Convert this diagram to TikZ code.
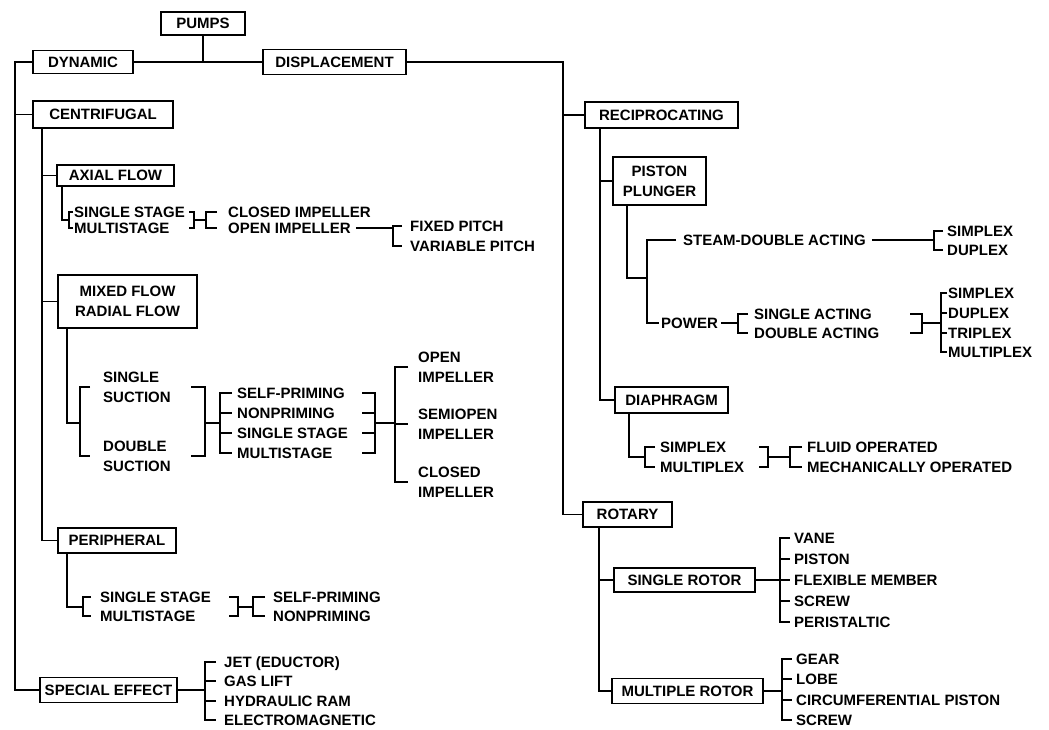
\documentclass[tikz,border=0pt]{standalone}
\usepackage{fontspec}
\setmainfont{Liberation Sans}
\usetikzlibrary{calc}
\newcommand{\pfont}{\fontsize{15}{20}\selectfont\bfseries}
\newcommand{\mylb}[4]{\draw[ln] ($(#2.west -| #1)+(#4,0)$) -- (#2.west -| #1) -- (#3.west -| #1) -- ($(#3.west -| #1)+(#4,0)$);}
\newcommand{\myarm}[3]{\draw[ln] (#2.west -| #1) -- ++(#3,0);}
\begin{document}
\begin{tikzpicture}[x=1pt,y=-1pt,
  ln/.style={line width=1.6pt},
  box/.style={draw,line width=1.6pt,inner sep=0pt,align=center,font=\pfont},
  one/.style={text height=10.8pt,text depth=0pt},
  txt/.style={anchor=west,inner sep=2pt,font=\pfont,text height=10.8pt,text depth=0pt},
  txtm/.style={anchor=west,inner sep=2pt,font=\pfont,align=left}]
\useasboundingbox (0,0) rectangle (1049,729);
\fill[white] (0,0) rectangle (1049,729);

% ---------- boxes ----------
\node[box,one,minimum width=84,minimum height=23] (pumps) at (203,23.5) {PUMPS};
\node[box,one,minimum width=100,minimum height=23] (dyn) at (83,62) {DYNAMIC};
\node[box,one,minimum width=143,minimum height=25] (disp) at (334.5,62) {DISPLACEMENT};
\node[box,one,minimum width=140,minimum height=27] (cen) at (103,114.5) {CENTRIFUGAL};
\node[box,one,minimum width=117,minimum height=21] (axi) at (115.5,175.5) {AXIAL FLOW};
\node[box,minimum width=139,minimum height=53] (mix) at (127.5,301.5) {MIXED FLOW\\RADIAL FLOW};
\node[box,one,minimum width=118,minimum height=25] (per) at (117,540.5) {PERIPHERAL};
\node[box,one,minimum width=137,minimum height=25] (spe) at (108.5,690) {SPECIAL EFFECT};
\node[box,one,minimum width=153,minimum height=26] (rec) at (661.5,115) {RECIPROCATING};
\node[box,minimum width=93,minimum height=48] (pp) at (659.5,181) {PISTON\\PLUNGER};
\node[box,one,minimum width=113,minimum height=26] (dia) at (671.5,400) {DIAPHRAGM};
\node[box,one,minimum width=89,minimum height=25] (rot) at (627.5,514.5) {ROTARY};
\node[box,one,minimum width=141,minimum height=24] (sro) at (684.5,580) {SINGLE ROTOR};
\node[box,one,minimum width=151,minimum height=25] (mro) at (687.5,691) {MULTIPLE ROTOR};

% ---------- texts: left ----------
\node[txt] (a1) at (72,212) {SINGLE STAGE};
\node[txt] (a2) at (72,228) {MULTISTAGE};
\node[txt] (a3) at (226,212) {CLOSED IMPELLER};
\node[txt] (a4) at (226,228) {OPEN IMPELLER};
\node[txt] (a5) at (408,226) {FIXED PITCH};
\node[txt] (a6) at (408,246) {VARIABLE PITCH};

\node[txtm] (m1) at (101,387) {SINGLE\\SUCTION};
\node[txtm] (m2) at (101,456) {DOUBLE\\SUCTION};
\node[txt] (s1) at (235,393) {SELF-PRIMING};
\node[txt] (s2) at (235,413) {NONPRIMING};
\node[txt] (s3) at (235,433) {SINGLE STAGE};
\node[txt] (s4) at (235,453) {MULTISTAGE};
\node[txtm] (o1) at (416,367) {OPEN\\IMPELLER};
\node[txtm] (o2) at (416,424) {SEMIOPEN\\IMPELLER};
\node[txtm] (o3) at (416,482) {CLOSED\\IMPELLER};

\node[txt] (p1) at (98,597) {SINGLE STAGE};
\node[txt] (p2) at (98,616) {MULTISTAGE};
\node[txt] (p3) at (271,597) {SELF-PRIMING};
\node[txt] (p4) at (271,616) {NONPRIMING};

\node[txt] (e1) at (222,662) {JET (EDUCTOR)};
\node[txt] (e2) at (222,681) {GAS LIFT};
\node[txt] (e3) at (222,701) {HYDRAULIC RAM};
\node[txt] (e4) at (222,720) {ELECTROMAGNETIC};

% ---------- texts: right ----------
\node[txt] (st) at (681,240) {STEAM-DOUBLE ACTING};
\node[txt] (k1) at (945,231) {SIMPLEX};
\node[txt] (k2) at (945,250) {DUPLEX};
\node[txt] (pw) at (659,323) {POWER};
\node[txt] (q1) at (752,314) {SINGLE ACTING};
\node[txt] (q2) at (752,333) {DOUBLE ACTING};
\node[txt] (r1) at (946,293) {SIMPLEX};
\node[txt] (r2) at (946,313) {DUPLEX};
\node[txt] (r3) at (946,333) {TRIPLEX};
\node[txt] (r4) at (946,352) {MULTIPLEX};

\node[txt] (d1) at (658,447) {SIMPLEX};
\node[txt] (d2) at (658,467) {MULTIPLEX};
\node[txt] (d3) at (805,447) {FLUID OPERATED};
\node[txt] (d4) at (805,467) {MECHANICALLY OPERATED};

\node[txt] (v1) at (792,538) {VANE};
\node[txt] (v2) at (792,559) {PISTON};
\node[txt] (v3) at (792,580) {FLEXIBLE MEMBER};
\node[txt] (v4) at (792,601) {SCREW};
\node[txt] (v5) at (792,622) {PERISTALTIC};
\node[txt] (g1) at (794,659) {GEAR};
\node[txt] (g2) at (794,679) {LOBE};
\node[txt] (g3) at (794,700) {CIRCUMFERENTIAL PISTON};
\node[txt] (g4) at (794,720) {SCREW};

% ---------- coordinates ----------
\coordinate (tL) at (15,62);
\coordinate (tR) at (563,62);
\coordinate (cx) at ([xshift=10]cen.south west);
\coordinate (ax) at ([xshift=6]axi.south west);
\coordinate (mx) at ([xshift=10]mix.south west);
\coordinate (px) at ([xshift=10]per.south west);
\coordinate (rx) at ([xshift=16]rec.south west);
\coordinate (ppx) at ([xshift=15]pp.south west);
\coordinate (dx) at ([xshift=15]dia.south west);
\coordinate (rox) at ([xshift=17]rot.south west);

% ---------- top ----------
\draw[ln] (pumps.south) -- (pumps.south |- dyn.east);
\draw[ln] (dyn.east) -- (disp.west);
\draw[ln] (dyn.west) -- (tL) -- (spe.west -| tL) -- (spe.west);
\draw[ln] (cen.west -| tL) -- (cen.west);
\draw[ln] (cx) -- (per.west -| cx) -- (per.west);
\draw[ln] (axi.west -| cx) -- (axi.west);
\draw[ln] (mix.west -| cx) -- (mix.west);

% ---------- axial flow ----------
\coordinate (ab1) at (69,220);
\coordinate (ab2) at (194,220);
\coordinate (ab3) at (206,220);
\coordinate (ab4) at (393,236);
\draw[ln] (ax) |- (ab1);
\mylb{ab1}{a1}{a2}{4}
\mylb{ab2}{a1}{a2}{-5}
\draw[ln] (ab2) -- (ab3);
\mylb{ab3}{a3}{a4}{11}
\draw[ln] ([xshift=3]a4.east) -- (a4.east -| ab4);
\mylb{ab4}{a5}{a6}{9}

% ---------- mixed flow ----------
\coordinate (mb1) at (80,423);
\coordinate (mb2) at (205,423);
\coordinate (mb3) at (220,423);
\coordinate (mb4) at (375,423);
\coordinate (mb5) at (395,423);
\draw[ln] (mx) |- (mb1);
\mylb{mb1}{m1}{m2}{10}
\mylb{mb2}{m1}{m2}{-14}
\draw[ln] (mb2) -- (mb3);
\mylb{mb3}{s1}{s4}{12}
\myarm{mb3}{s2}{12}
\myarm{mb3}{s3}{12}
\mylb{mb4}{s1}{s4}{-13}
\myarm{mb4}{s2}{-13}
\myarm{mb4}{s3}{-13}
\draw[ln] (mb4) -- (mb5);
\mylb{mb5}{o1}{o3}{13}
\myarm{mb5}{o2}{13}

% ---------- peripheral ----------
\coordinate (pb1) at (83,607);
\coordinate (pb2) at (238,607);
\coordinate (pb3) at (253,607);
\draw[ln] (px) |- (pb1);
\mylb{pb1}{p1}{p2}{8}
\mylb{pb2}{p1}{p2}{-9}
\draw[ln] (pb2) -- (pb3);
\mylb{pb3}{p3}{p4}{12}

% ---------- special effect ----------
\coordinate (sb) at (205,690);
\draw[ln] (spe.east) -- (sb);
\mylb{sb}{e1}{e4}{11}
\myarm{sb}{e2}{11}
\myarm{sb}{e3}{11}

% ---------- displacement side ----------
\draw[ln] (disp.east) -- (tR) -- (rot.west -| tR) -- (rot.west);
\draw[ln] (rec.west -| tR) -- (rec.west);
\draw[ln] (rx) -- (dia.west -| rx) -- (dia.west);
\draw[ln] (pp.west -| rx) -- (pp.west);

\coordinate (pb) at (647,278);
\draw[ln] (ppx) |- (pb);
\draw[ln] ([xshift=-5]st.west) -- (st.west -| pb) -- (pw.west -| pb) -- (pw.west);
\coordinate (stb) at (934,240);
\draw[ln] ([xshift=4]st.east) -- (st.east -| stb);
\mylb{stb}{k1}{k2}{9}

\coordinate (pwb1) at (738,323);
\coordinate (pwb2) at (922,323);
\coordinate (pwb3) at (941,323);
\draw[ln] ([xshift=1]pw.east) -- (pwb1);
\mylb{pwb1}{q1}{q2}{10}
\mylb{pwb2}{q1}{q2}{-12}
\draw[ln] (pwb2) -- (pwb3);
\mylb{pwb3}{r1}{r4}{6}
\myarm{pwb3}{r2}{6}
\myarm{pwb3}{r3}{6}

\coordinate (db1) at (645,457);
\coordinate (db2) at (768,457);
\coordinate (db3) at (790,457);
\draw[ln] (dx) |- (db1);
\mylb{db1}{d1}{d2}{10}
\mylb{db2}{d1}{d2}{-9}
\draw[ln] (db2) -- (db3);
\mylb{db3}{d3}{d4}{12}

% ---------- rotary ----------
\draw[ln] (rox) -- (mro.west -| rox) -- (mro.west);
\draw[ln] (sro.west -| rox) -- (sro.west);
\coordinate (srb) at (780,580);
\draw[ln] (sro.east) -- (srb);
\mylb{srb}{v1}{v5}{10}
\myarm{srb}{v2}{10}
\myarm{srb}{v3}{10}
\myarm{srb}{v4}{10}
\coordinate (mrb) at (782,691);
\draw[ln] (mro.east) -- (mrb);
\mylb{mrb}{g1}{g4}{10}
\myarm{mrb}{g2}{10}
\myarm{mrb}{g3}{10}
\end{tikzpicture}
\end{document}
